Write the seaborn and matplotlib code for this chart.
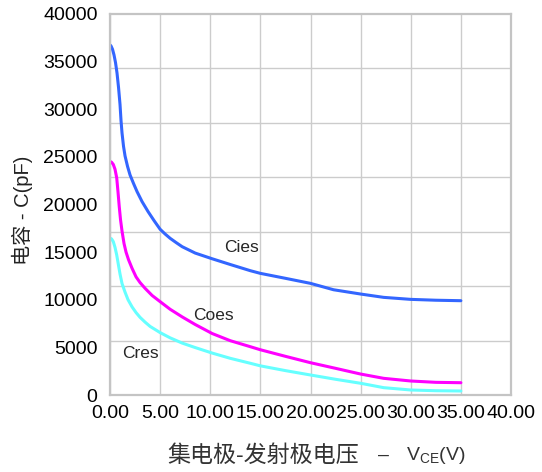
import seaborn as sns
import matplotlib.pyplot as plt
import numpy as np
import pandas as pd

# values (V_CE in V, capacitance in pF)
cies_v = [0, 0.1, 0.25, 0.4, 0.55, 0.7, 0.85, 1.0, 1.1, 1.2, 1.35, 1.5, 1.75, 2.0, 2.35, 2.7,
          3.2, 3.8, 4.4, 5.0, 5.5, 6.0, 6.6, 7.2, 8.5, 10.2, 12.0, 14.0, 15.0, 17.5, 20.0,
          22.3, 25.0, 27.3, 30.0, 32.5, 35.0]
cies_c = [36750, 36650, 36300, 35700, 34900, 33800, 32300, 30500, 28800, 27500, 26100, 25100,
          24000, 23100, 22200, 21350, 20300, 19250, 18300, 17400, 16900, 16450, 16000, 15570,
          14900, 14300, 13700, 13050, 12770, 12250, 11720, 11050, 10600, 10250, 10040, 9950, 9900]

coes_v = [0, 0.15, 0.33, 0.5, 0.67, 0.8, 0.92, 1.05, 1.2, 1.4, 1.6, 1.85, 2.2, 2.6, 3.0, 3.5,
          4.2, 5.0, 6.0, 7.2, 8.5, 10.2, 12.0, 14.0, 15.0, 17.5, 20.0, 22.5, 25.0, 27.3, 30.0,
          32.5, 35.0]
coes_c = [24500, 24450, 24200, 23700, 22800, 21300, 19800, 18400, 17200, 15900, 15000, 14200,
          13300, 12400, 11800, 11200, 10450, 9800, 9000, 8200, 7400, 6450, 5700, 5070, 4750,
          4060, 3390, 2800, 2200, 1750, 1470, 1330, 1290]

cres_v = [0, 0.15, 0.33, 0.5, 0.67, 0.85, 1.0, 1.2, 1.5, 1.8, 2.2, 2.6, 3.0, 3.5, 4.0, 5.0,
          6.0, 7.2, 8.5, 10.2, 12.0, 14.0, 15.0, 17.5, 20.0, 22.5, 25.0, 27.3, 30.0, 32.5, 35.0]
cres_c = [16450, 16400, 16100, 15500, 14700, 13600, 12700, 11700, 10800, 10000, 9250, 8650,
          8150, 7650, 7200, 6550, 6000, 5450, 4980, 4400, 3850, 3330, 3060, 2560, 2100, 1650,
          1230, 770, 525, 450, 420]

series_names = ['Cies', 'Coes', 'Cres']
series_colors = ['#3366FF', '#FF00FF', '#66FFFF']

x_ticks = np.arange(0, 40.01, 5)
y_ticks = np.arange(0, 40001, 5000)

sns.set_theme(style='white')
plt.rcParams['font.family'] = ['Liberation Sans', 'Noto Sans CJK SC']
plt.rcParams['mathtext.fontset'] = 'custom'
plt.rcParams['mathtext.rm'] = 'Liberation Sans'

fig = plt.figure(figsize=(5.42, 4.72), dpi=100)
ax = fig.add_axes([110 / 542, 1 - 395 / 472, 401 / 542, 381 / 472])

for name, color, v, c in zip(series_names, series_colors,
                             [cies_v, coes_v, cres_v], [cies_c, coes_c, cres_c]):
    df = pd.DataFrame({'V': v, 'C': c})
    sns.lineplot(data=df, x='V', y='C', ax=ax, color=color, linewidth=2.2)

ax.set_xlim(0, 40)
ax.set_ylim(0, 40000)
ax.set_xticks(x_ticks)
ax.set_xticklabels([f'{t:.2f}' for t in x_ticks], fontsize=14)
ax.set_yticks(y_ticks)
ax.set_yticklabels([f'{t:d}' for t in y_ticks], fontsize=14)
# the grid in the original does not follow the y labels: 7 rows
ax.set_yticks(np.linspace(0, 40000, 8), minor=True)
ax.tick_params(which='both', length=0, colors='black')
ax.tick_params(axis='y', pad=9)
ax.tick_params(axis='x', pad=7)
ax.grid(False)
ax.grid(True, axis='x', which='major', color='#cccccc', linewidth=1)
ax.grid(True, axis='y', which='minor', color='#cccccc', linewidth=1)
for sp in ax.spines.values():
    sp.set_color('#c4c4c4')
    sp.set_linewidth(1.6)

# curve labels
ax.text(11.4, 15500, 'Cies', fontsize=12.5, va='center')
ax.text(8.3, 8300, 'Coes', fontsize=12.5, va='center')
ax.text(1.2, 4400, 'Cres', fontsize=12.5, va='center')

ax.set_xlabel('')
# x label in pieces: mathtext has no CJK fallback
ylab = 1 - 455 / 472
fig.text(167 / 542, ylab, '集电极-发射极电压', fontsize=16.6, color='#333333',
         ha='left', va='center')
fig.text(384 / 542, ylab, '–', fontsize=14, color='#333333', ha='center', va='center')
fig.text(406 / 542, ylab, r'V$_{\mathrm{CE}}$(V)', fontsize=14, color='#333333',
         ha='left', va='center')
ax.set_ylabel('电容 - C(pF)', fontsize=14.5, color='#222222')
ax.yaxis.set_label_coords(-0.219, 0.485)
ax.yaxis.label.set_va('center')

fig.savefig('out.png', dpi=100)
